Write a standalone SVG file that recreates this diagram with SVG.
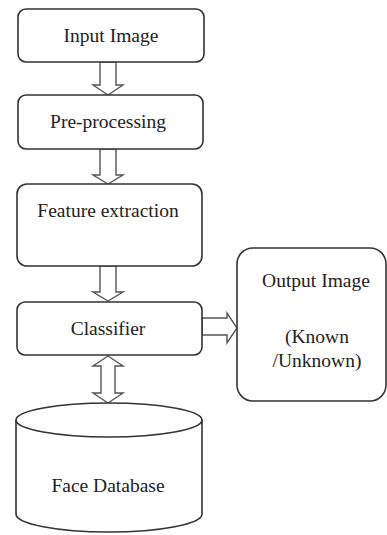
<svg xmlns="http://www.w3.org/2000/svg" width="387" height="535" viewBox="0 0 387 535">
<style>
.box{fill:#fff;stroke:#333;stroke-width:1.6}
.arr{fill:#fff;stroke:#555;stroke-width:1.4;stroke-linejoin:miter}
.t{font-size:19.5px;fill:#222;text-anchor:middle}
</style>
<rect width="387" height="535" fill="#fff"/>
<g id="connectors">
<polygon class="arr" points="100,62 116,62 116,85 123,85 108,95 93,85 100,85"/>
<polygon class="arr" points="100,149 116,149 116,175 123,175 108,184 93,175 100,175"/>
<polygon class="arr" points="100,266 116,266 116,292 123,292 108,301 93,292 100,292"/>
<polygon class="arr" points="108,356 123,366 115,366 115,393 123,393 108,403 93,393 101,393 101,366 93,366"/>
<polygon class="arr" points="202,318 227,318 227,313 237,328 227,343 227,335 202,335"/>
</g>
<g font-family="Liberation Serif, Times New Roman, serif">
<g id="input-image">
<rect class="box" x="18" y="9" width="186" height="53" rx="8"/>
<text class="t" x="111" y="42">Input Image</text>
</g>
<g id="pre-processing">
<rect class="box" x="18" y="95" width="185" height="54" rx="8"/>
<text class="t" x="108" y="128">Pre-processing</text>
</g>
<g id="feature-extraction">
<rect class="box" x="17" y="184" width="185" height="82" rx="10"/>
<text class="t" x="108" y="217">Feature extraction</text>
</g>
<g id="classifier">
<rect class="box" x="17" y="302" width="185" height="53" rx="8"/>
<text class="t" x="108" y="335">Classifier</text>
</g>
<g id="output-image">
<rect class="box" x="237" y="248" width="149" height="153" rx="16"/>
<text class="t" x="316" y="287">Output Image</text>
<text class="t" x="317" y="343">(Known</text>
<text class="t" x="317" y="367">/Unknown)</text>
</g>
<g id="face-database">
<path class="box" d="M16,420 L16,514 A93,18 0 0 0 202,514 L202,420"/>
<ellipse class="box" cx="109" cy="420" rx="93" ry="17"/>
<text class="t" x="108" y="492">Face Database</text>
</g>
</g>
</svg>
